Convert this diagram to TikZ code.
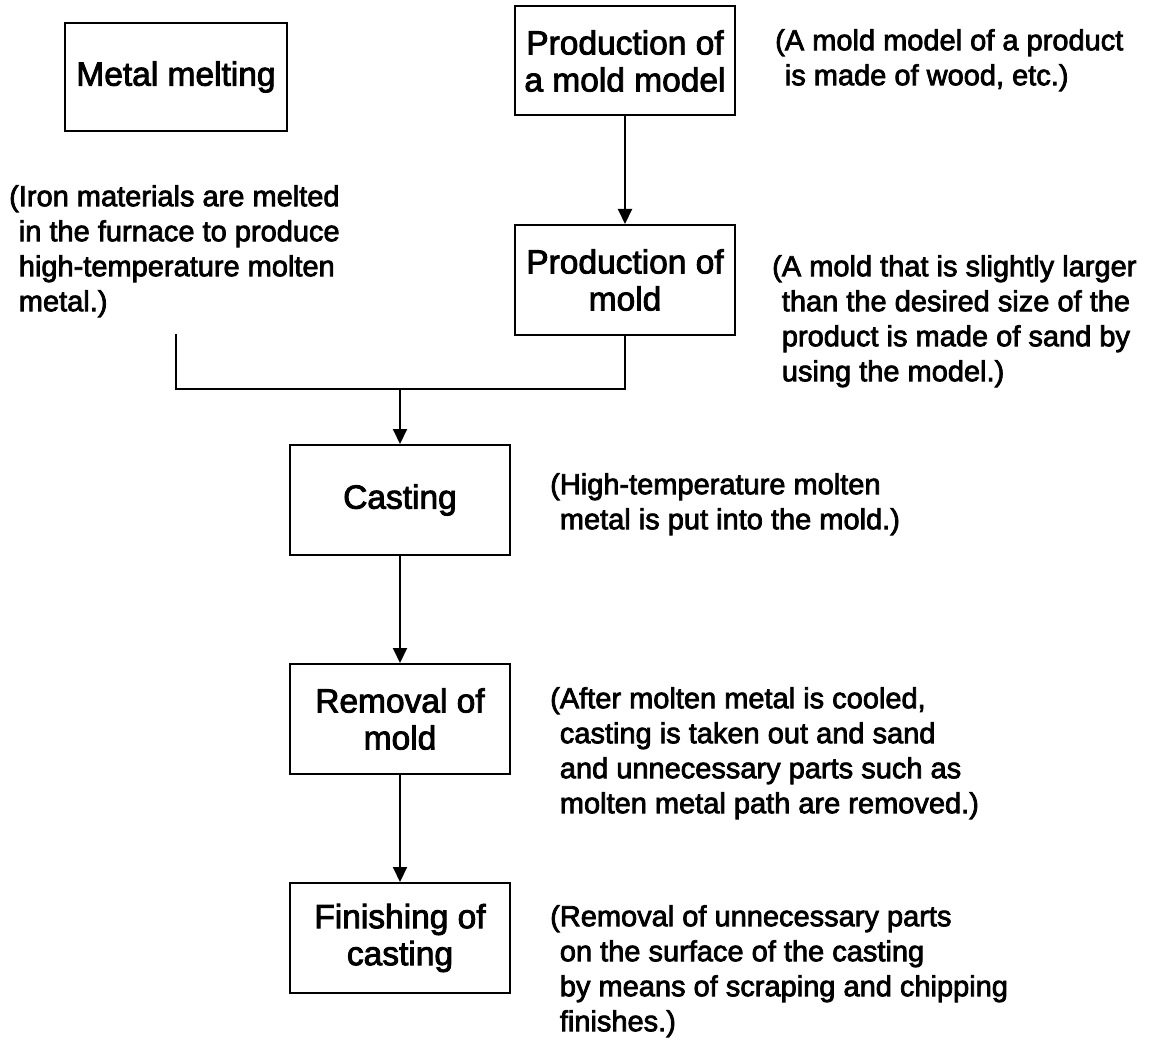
\documentclass[tikz,border=0pt]{standalone}
\usepackage{fontspec}
\setmainfont{Liberation Sans}[BoldFont=Liberation Sans, BoldFeatures={FakeBold=2.6}]
\usetikzlibrary{arrows.meta}
\tikzset{
  stepbox/.style={draw, line width=2pt, rectangle, minimum width=220pt, minimum height=110pt, inner sep=0pt, align=center, font=\fontsize{33.5}{37}\selectfont\bfseries},
  note/.style={anchor=north west, inner sep=0pt, align=left, font=\fontsize{29}{35}\selectfont\bfseries},
  conn/.style={line width=2pt},
  arr/.style={line width=2pt, -{Triangle[width=14pt,length=15pt]}}
}
\begin{document}
\begin{tikzpicture}[x=1pt,y=-1pt]
\useasboundingbox (0,0) rectangle (1153,1040);
\fill[white] (0,0) rectangle (1153,1040);
% boxes
\node[stepbox, minimum width=222pt, minimum height=108pt] (melt) at (176,77) {Metal melting};
\node[stepbox, minimum height=109pt] (model) at (625,61) {Production of\\a mold model};
\node[stepbox] (mold) at (625,280) {Production of\\mold};
\node[stepbox] (cast) at (400,500) {Casting};
\node[stepbox] (rem) at (400,719) {Removal of\\mold};
\node[stepbox] (fin) at (400,938) {Finishing of\\casting};
% notes
\node[note] (nmodel) at (775,29) {(A mold model of a product\\\phantom{(}is made of wood, etc.)};
\node[note] (nmelt) at (9,185) {(Iron materials are melted\\\phantom{(}in the furnace to produce\\\phantom{(}high-temperature molten\\\phantom{(}metal.)};
\node[note] (nmold) at (772,255) {(A mold that is slightly larger\\\phantom{(}than the desired size of the\\\phantom{(}product is made of sand by\\\phantom{(}using the model.)};
\node[note] (ncast) at (550,473) {(High-temperature molten\\\phantom{(}metal is put into the mold.)};
\node[note] (nrem) at (550,687) {(After molten metal is cooled,\\\phantom{(}casting is taken out and sand\\\phantom{(}and unnecessary parts such as\\\phantom{(}molten metal path are removed.)};
\node[note] (nfin) at (550,905) {(Removal of unnecessary parts\\\phantom{(}on the surface of the casting\\\phantom{(}by means of scraping and chipping\\\phantom{(}finishes.)};
% connectors
\coordinate (ls) at (melt.south |- 0,334);
\coordinate (j) at (cast.north |- 0,389);
\draw[arr] (model.south) -- (mold.north);
\draw[conn] (ls) -- (ls |- j) -- (mold.south |- j) -- (mold.south);
\draw[arr] (j) -- (cast.north);
\draw[arr] (cast.south) -- (rem.north);
\draw[arr] (rem.south) -- (fin.north);
\end{tikzpicture}
\end{document}
